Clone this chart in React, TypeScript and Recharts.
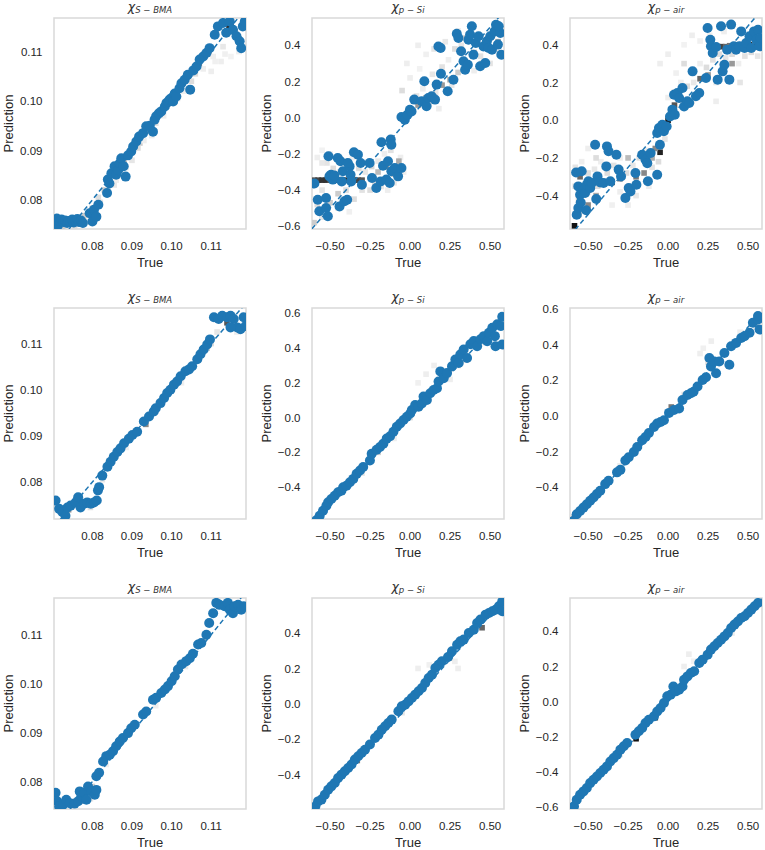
import React from 'react';
import { ScatterChart, Scatter, XAxis, YAxis, ReferenceArea } from 'recharts';

type Pair = [number, number];
type Bin = [number, number, string];

// axis ranges and ticks
const sbmaRange: Pair = [0.0703, 0.1188];
const pRange: Pair = [-0.613, 0.587];
const sbmaTicks = [0.08, 0.09, 0.1, 0.11];
const pTicksX = [-0.5, -0.25, 0, 0.25, 0.5];
const yTicks6 = [-0.6, -0.4, -0.2, 0, 0.2, 0.4];
const yTicks4 = [-0.4, -0.2, 0, 0.2, 0.4];
const yTicksUp = [-0.4, -0.2, 0, 0.2, 0.4, 0.6];

// row 1 ---------------------------------------------------------------
const sbma1: Pair[] = [
  [0.0706, 0.0758], [0.071, 0.0762], [0.0713, 0.0748], [0.0718, 0.0757], [0.0722, 0.076], [0.0727, 0.0755],
  [0.0731, 0.0758], [0.0736, 0.0753], [0.074, 0.0757], [0.0745, 0.0755], [0.0749, 0.076], [0.0753, 0.0754],
  [0.0758, 0.0757], [0.0762, 0.0761], [0.0766, 0.0755], [0.0771, 0.0758], [0.0776, 0.0753],
  [0.0793, 0.0773], [0.08, 0.0756], [0.0804, 0.078], [0.081, 0.0766], [0.0815, 0.079],
  [0.0837, 0.0814], [0.0839, 0.0841], [0.0843, 0.0833], [0.0848, 0.0854], [0.0856, 0.0868], [0.086, 0.0851],
  [0.0865, 0.086], [0.0869, 0.0874], [0.0873, 0.0884], [0.0879, 0.0868], [0.0884, 0.0847], [0.089, 0.089],
  [0.0898, 0.0898], [0.0903, 0.0908], [0.0911, 0.0918], [0.0918, 0.0928], [0.0928, 0.0935], [0.0936, 0.0949],
  [0.0945, 0.095], [0.0953, 0.0938], [0.0957, 0.0962], [0.0961, 0.0969], [0.0968, 0.0975], [0.0974, 0.0979],
  [0.0983, 0.0989], [0.0987, 0.0996], [0.0992, 0.0998], [0.0995, 0.1003], [0.1, 0.1006], [0.1004, 0.0999],
  [0.1008, 0.1015], [0.1012, 0.1009], [0.102, 0.1026], [0.1025, 0.1036], [0.1033, 0.1043], [0.1041, 0.1053],
  [0.1047, 0.1023], [0.1055, 0.1062], [0.1063, 0.107], [0.1071, 0.1084], [0.108, 0.109], [0.1088, 0.1097],
  [0.1096, 0.1107], [0.1109, 0.1134], [0.1117, 0.1151], [0.113, 0.1158], [0.1138, 0.1138], [0.1147, 0.1161],
  [0.1155, 0.1144], [0.1164, 0.1131], [0.1172, 0.1121], [0.1176, 0.1107], [0.118, 0.1151], [0.1185, 0.1161],
];
const sbma1Bins: Bin[] = [
  [0.0722, 0.0752, '#111'], [0.073, 0.0752, '#222'], [0.0738, 0.0756, '#555'], [0.0746, 0.0752, '#777'],
  [0.0714, 0.076, '#888'], [0.079, 0.077, '#bbb'], [0.0805, 0.0775, '#555'], [0.08, 0.0783, '#ccc'],
  [0.083, 0.082, '#ccc'], [0.088, 0.088, '#bbb'], [0.092, 0.0915, '#ccc'], [0.094, 0.094, '#aaa'],
  [0.1, 0.1, '#999'], [0.103, 0.104, '#777'], [0.105, 0.104, '#ddd'], [0.107, 0.1075, '#888'],
  [0.1095, 0.1095, '#aaa'], [0.1112, 0.1138, '#888'], [0.1145, 0.1152, '#333'], [0.115, 0.115, '#222'],
  [0.116, 0.114, '#888'], [0.117, 0.1125, '#999'], [0.1105, 0.109, '#eee'], [0.1125, 0.108, '#eee'],
  [0.1135, 0.1095, '#f0f0f0'], [0.11, 0.106, '#eee'], [0.095, 0.093, '#eee'], [0.086, 0.084, '#eee'],
  [0.082, 0.0795, '#e4e4e4'], [0.084, 0.0825, '#eee'], [0.0855, 0.083, '#e8e8e8'], [0.087, 0.086, '#ddd'],
  [0.0885, 0.0865, '#eee'], [0.09, 0.088, '#e6e6e6'], [0.0915, 0.0905, '#ddd'], [0.093, 0.092, '#eee'],
  [0.096, 0.0955, '#e2e2e2'], [0.098, 0.097, '#eee'], [0.1015, 0.1005, '#e6e6e6'], [0.103, 0.102, '#eee'],
  [0.106, 0.1055, '#ddd'], [0.108, 0.1065, '#eee'], [0.111, 0.108, '#f0f0f0'], [0.113, 0.111, '#e8e8e8'],
  [0.115, 0.109, '#f2f2f2'], [0.117, 0.11, '#eee'], [0.0725, 0.0745, '#ccc'], [0.0755, 0.0745, '#ddd'],
  [0.078, 0.0768, '#ccc'], [0.0815, 0.0805, '#ddd'], [0.0785, 0.0755, '#e6e6e6'],
];

const pSi1: Pair[] = [
  [-0.598, -0.364], [-0.577, -0.453], [-0.567, -0.517], [-0.525, -0.499], [-0.51, -0.213], [-0.525, -0.444],
  [-0.504, -0.324], [-0.494, -0.315], [-0.483, -0.342], [-0.514, -0.545], [-0.473, -0.32], [-0.452, -0.223],
  [-0.435, -0.241], [-0.427, -0.352], [-0.42, -0.296], [-0.441, -0.49], [-0.41, -0.462], [-0.393, -0.453],
  [-0.378, -0.269], [-0.372, -0.315], [-0.368, -0.352], [-0.389, -0.25], [-0.351, -0.191], [-0.326, -0.204],
  [-0.301, -0.37], [-0.309, -0.25], [-0.253, -0.25], [-0.238, -0.333], [-0.211, -0.388], [-0.184, -0.352],
  [-0.179, -0.136], [-0.169, -0.265], [-0.148, -0.342], [-0.138, -0.241], [-0.127, -0.361], [-0.121, -0.121],
  [-0.117, -0.149], [-0.117, -0.296], [-0.096, -0.278], [-0.075, -0.324], [-0.054, -0.278],
  [-0.054, 0.004], [-0.033, -0.011], [-0.016, 0.017], [-0.001, 0.044], [0.009, 0.035], [0.026, 0.1],
  [0.072, 0.091], [0.089, 0.201], [0.103, 0.063], [0.114, 0.109], [0.135, 0.118], [0.156, 0.1],
  [0.166, 0.183], [0.193, 0.243], [0.177, 0.394], [0.191, 0.385], [0.235, 0.146], [0.271, 0.21],
  [0.292, 0.464], [0.302, 0.44], [0.319, 0.367], [0.334, 0.312], [0.344, 0.265], [0.361, 0.293],
  [0.365, 0.431], [0.375, 0.459], [0.386, 0.505], [0.396, 0.348], [0.411, 0.413], [0.428, 0.45],
  [0.438, 0.284], [0.459, 0.394], [0.47, 0.302], [0.48, 0.422], [0.491, 0.385], [0.501, 0.45],
  [0.512, 0.376], [0.528, 0.477], [0.537, 0.514], [0.549, 0.404], [0.564, 0.468], [0.57, 0.348], [0.554, 0.505],
];
const pSi1Bins: Bin[] = [
  [-0.58, -0.22, '#eee'], [-0.55, -0.18, '#f2f2f2'], [-0.52, -0.25, '#e4e4e4'], [-0.48, -0.28, '#ddd'],
  [-0.44, -0.3, '#e8e8e8'], [-0.4, -0.25, '#e2e2e2'], [-0.36, -0.22, '#eee'], [-0.32, -0.28, '#ddd'],
  [-0.28, -0.3, '#e6e6e6'], [-0.24, -0.27, '#d6d6d6'], [-0.2, -0.24, '#e8e8e8'], [-0.16, -0.2, '#eee'],
  [-0.12, -0.18, '#e2e2e2'], [-0.08, -0.28, '#ddd'], [-0.04, -0.3, '#eee'], [-0.18, -0.38, '#e6e6e6'],
  [-0.14, -0.4, '#eee'], [-0.3, -0.4, '#e2e2e2'], [-0.4, -0.4, '#ddd'], [-0.55, -0.4, '#e4e4e4'],
  [-0.58, -0.48, '#ddd'], [-0.45, -0.5, '#eee'], [-0.38, -0.52, '#f0f0f0'], [-0.55, -0.55, '#e6e6e6'],
  [-0.6, -0.58, '#ccc'], [-0.22, -0.36, '#ddd'], [-0.1, -0.36, '#e8e8e8'], [-0.06, -0.22, '#eee'],
  [0.0, 0.05, '#ddd'], [0.04, 0.12, '#e4e4e4'], [0.08, 0.16, '#eee'], [0.12, 0.08, '#ddd'], [0.16, 0.14, '#e8e8e8'],
  [0.2, 0.28, '#e2e2e2'], [0.24, 0.32, '#eee'], [0.28, 0.38, '#ddd'], [0.32, 0.4, '#e6e6e6'], [0.36, 0.3, '#ddd'],
  [0.4, 0.26, '#eee'], [0.44, 0.34, '#e2e2e2'], [0.48, 0.42, '#ddd'], [0.52, 0.46, '#e8e8e8'], [0.56, 0.36, '#e2e2e2'],
  [0.3, 0.48, '#eee'], [0.22, 0.42, '#e8e8e8'], [0.1, 0.35, '#f0f0f0'], [0.0, 0.22, '#eee'], [0.06, 0.27, '#f2f2f2'],
  [0.14, 0.24, '#e6e6e6'], [0.38, 0.48, '#eee'], [0.5, 0.3, '#e4e4e4'], [0.26, 0.18, '#e6e6e6'], [0.18, 0.05, '#eee'],
  [-0.6, -0.345, '#555'], [-0.575, -0.345, '#444'], [-0.55, -0.345, '#333'], [-0.525, -0.345, '#333'],
  [-0.5, -0.345, '#555'], [-0.475, -0.345, '#444'], [-0.45, -0.345, '#333'], [-0.425, -0.345, '#444'],
  [-0.4, -0.345, '#333'], [-0.375, -0.345, '#222'], [-0.35, -0.345, '#333'], [-0.325, -0.345, '#444'],
  [-0.3, -0.345, '#555'], [-0.15, -0.27, '#888'], [-0.1, -0.31, '#999'], [-0.07, -0.24, '#aaa'],
  [-0.2, -0.3, '#bbb'], [0.05, 0.07, '#999'], [0.1, 0.11, '#aaa'], [0.2, 0.18, '#999'], [0.25, 0.21, '#aaa'],
  [0.4, 0.36, '#aaa'], [0.5, 0.38, '#999'], [0.55, 0.42, '#aaa'], [0.35, 0.44, '#bbb'], [0.45, 0.3, '#bbb'],
  [-0.45, -0.42, '#ccc'], [-0.5, -0.47, '#ccc'], [-0.35, -0.45, '#ddd'], [-0.05, 0.15, '#ddd'],
  [-0.02, 0.3, '#eee'], [0.05, 0.4, '#eee'], [0.15, 0.38, '#e5e5e5'], [-0.5, -0.2, '#eee'],
  [-0.55, -0.25, '#e8e8e8'], [-0.25, -0.4, '#ddd'], [0.3, 0.25, '#ccc'],
];

const pAir1: Pair[] = [
  [-0.571, -0.501], [-0.561, -0.466], [-0.575, -0.277], [-0.54, -0.271], [-0.561, -0.351], [-0.55, -0.395],
  [-0.546, -0.436], [-0.529, -0.369], [-0.519, -0.386], [-0.508, -0.342], [-0.498, -0.324], [-0.512, -0.478],
  [-0.487, -0.36], [-0.477, -0.333], [-0.456, -0.13], [-0.441, -0.298], [-0.449, -0.418], [-0.424, -0.33],
  [-0.403, -0.333], [-0.382, -0.139], [-0.372, -0.165], [-0.386, -0.245], [-0.361, -0.324], [-0.323, -0.183],
  [-0.309, -0.262], [-0.294, -0.298], [-0.267, -0.413], [-0.246, -0.36], [-0.235, -0.378], [-0.204, -0.28],
  [-0.198, -0.342], [-0.162, -0.183], [-0.141, -0.21], [-0.13, -0.228], [-0.126, -0.324], [-0.109, -0.174],
  [-0.068, -0.289], [-0.051, -0.13], [-0.068, -0.068], [-0.057, -0.041], [-0.036, -0.024], [-0.026, -0.059],
  [-0.009, -0.033], [0.012, 0.02], [0.027, 0.056], [0.037, 0.135], [0.042, 0.029], [0.058, 0.144],
  [0.069, 0.118], [0.09, 0.171], [0.1, 0.073], [0.121, 0.1], [0.132, 0.091], [0.153, 0.259], [0.174, 0.127],
  [0.195, 0.144], [0.237, 0.224], [0.247, 0.489], [0.264, 0.427], [0.268, 0.392], [0.279, 0.356], [0.3, 0.388],
  [0.31, 0.215], [0.331, 0.498], [0.341, 0.259], [0.352, 0.294], [0.369, 0.374], [0.383, 0.215], [0.394, 0.507],
  [0.411, 0.392], [0.425, 0.374], [0.446, 0.392], [0.457, 0.471], [0.478, 0.383], [0.488, 0.409], [0.509, 0.445],
  [0.52, 0.383], [0.537, 0.471], [0.551, 0.427], [0.562, 0.48], [0.572, 0.392], [0.579, 0.436],
];
const pAir1Bins: Bin[] = [
  [-0.58, -0.25, '#e4e4e4'], [-0.54, -0.22, '#eee'], [-0.5, -0.28, '#ddd'], [-0.46, -0.26, '#e8e8e8'],
  [-0.42, -0.22, '#eee'], [-0.38, -0.28, '#ddd'], [-0.34, -0.24, '#e2e2e2'], [-0.3, -0.2, '#eee'],
  [-0.26, -0.28, '#ddd'], [-0.22, -0.24, '#e6e6e6'], [-0.18, -0.2, '#ddd'], [-0.14, -0.16, '#eee'],
  [-0.1, -0.25, '#e2e2e2'], [-0.06, -0.22, '#ddd'], [-0.02, -0.1, '#e6e6e6'], [-0.56, -0.42, '#ddd'],
  [-0.5, -0.38, '#e2e2e2'], [-0.44, -0.35, '#ddd'], [-0.3, -0.38, '#eee'], [-0.2, -0.4, '#e8e8e8'],
  [-0.12, -0.35, '#eee'], [-0.35, -0.45, '#f0f0f0'], [-0.58, -0.35, '#ddd'],
  [0.04, 0.15, '#e6e6e6'], [0.08, 0.2, '#eee'], [0.12, 0.18, '#ddd'], [0.16, 0.2, '#e8e8e8'], [0.2, 0.3, '#eee'],
  [0.24, 0.28, '#ddd'], [0.28, 0.32, '#e2e2e2'], [0.32, 0.35, '#ddd'], [0.36, 0.33, '#e6e6e6'], [0.4, 0.35, '#ddd'],
  [0.44, 0.3, '#eee'], [0.48, 0.34, '#e2e2e2'], [0.52, 0.36, '#ddd'], [0.56, 0.34, '#e6e6e6'], [0.26, 0.45, '#eee'],
  [0.2, 0.42, '#f0f0f0'], [0.1, 0.4, '#f2f2f2'], [0.3, 0.2, '#e8e8e8'], [0.5, 0.45, '#e2e2e2'], [0.15, 0.1, '#e6e6e6'],
  [0.0, 0.12, '#eee'], [0.05, 0.25, '#f0f0f0'], [0.35, 0.47, '#eee'],
  [0.31, 0.39, '#555'], [0.335, 0.39, '#444'], [0.36, 0.39, '#666'], [0.385, 0.395, '#777'], [0.41, 0.395, '#555'],
  [0.435, 0.4, '#444'], [0.46, 0.4, '#333'], [0.485, 0.4, '#111'], [0.51, 0.4, '#333'], [0.535, 0.39, '#555'],
  [0.56, 0.39, '#666'], [0.58, 0.4, '#888'], [0.0, 0.0, '#111'], [0.02, 0.02, '#333'], [0.04, 0.08, '#555'],
  [0.08, 0.11, '#666'], [-0.05, -0.17, '#222'], [-0.08, -0.15, '#888'], [0.2, 0.22, '#666'], [0.25, 0.24, '#999'],
  [0.35, 0.27, '#888'], [0.4, 0.3, '#999'], [-0.2, -0.3, '#777'], [-0.15, -0.28, '#888'], [-0.3, -0.31, '#666'],
  [-0.35, -0.33, '#444'], [-0.4, -0.33, '#666'], [-0.55, -0.3, '#666'], [-0.585, -0.56, '#111'], [-0.56, -0.5, '#555'],
  [-0.5, -0.45, '#888'], [-0.45, -0.4, '#aaa'], [-0.25, -0.2, '#bbb'], [-0.1, -0.2, '#aaa'], [0.1, 0.3, '#ddd'],
  [0.0, 0.35, '#eee'], [-0.05, 0.3, '#eee'], [0.15, 0.45, '#eee'], [-0.5, -0.15, '#eee'], [-0.45, -0.2, '#ddd'],
  [-0.25, -0.45, '#eee'], [0.3, 0.1, '#eee'], [0.45, 0.2, '#e5e5e5'],
];

// row 2 ---------------------------------------------------------------
const sbma2: Pair[] = [
  [0.0707, 0.076], [0.0716, 0.0742], [0.0724, 0.0735], [0.0732, 0.0727], [0.0737, 0.0745], [0.0745, 0.0749],
  [0.0758, 0.0756], [0.0764, 0.0767], [0.077, 0.0745], [0.0779, 0.0753], [0.0787, 0.0756], [0.0796, 0.0753],
  [0.0804, 0.0756], [0.0811, 0.076], [0.0814, 0.0782], [0.0817, 0.0789], [0.0825, 0.0814],
  [0.0838, 0.0833], [0.0846, 0.0844], [0.0854, 0.0855], [0.0863, 0.0865], [0.0871, 0.0873], [0.088, 0.0884],
  [0.0892, 0.0894], [0.0901, 0.0902], [0.0913, 0.0909], [0.093, 0.0931], [0.0943, 0.0942], [0.0955, 0.0953],
  [0.096, 0.096], [0.0972, 0.0971], [0.0981, 0.0982], [0.0989, 0.0993], [0.0997, 0.1], [0.1006, 0.1011],
  [0.1014, 0.1018], [0.1023, 0.1029], [0.1035, 0.104], [0.1044, 0.1044], [0.1052, 0.1051], [0.1065, 0.1066],
  [0.1073, 0.1077], [0.1081, 0.1087], [0.109, 0.1098], [0.1097, 0.1109],
  [0.1107, 0.1157], [0.1119, 0.1153], [0.1128, 0.116], [0.114, 0.1157], [0.1149, 0.116], [0.1157, 0.1153],
  [0.1166, 0.1135], [0.1174, 0.1131], [0.1182, 0.1157], [0.1187, 0.1138], [0.1149, 0.1135],
];
const sbma2Bins: Bin[] = [
  [0.1147, 0.1138, '#111'], [0.114, 0.1145, '#555'], [0.074, 0.074, '#999'], [0.077, 0.0745, '#ccc'],
  [0.0935, 0.0925, '#888'], [0.0955, 0.095, '#bbb'], [0.1, 0.1, '#ccc'], [0.109, 0.109, '#ccc'], [0.11, 0.11, '#ddd'],
  [0.0795, 0.0745, '#e2e2e2'], [0.0825, 0.0805, '#e8e8e8'], [0.0885, 0.0875, '#eee'], [0.1025, 0.1015, '#eee'],
  [0.1115, 0.1125, '#e6e6e6'], [0.1165, 0.1125, '#eee'],
];

const pSi2: Pair[] = [
  [-0.586, -0.591], [-0.565, -0.566], [-0.544, -0.537], [-0.523, -0.508], [-0.512, -0.488], [-0.492, -0.469],
  [-0.471, -0.45], [-0.45, -0.43], [-0.429, -0.421], [-0.418, -0.401], [-0.397, -0.392], [-0.376, -0.372],
  [-0.355, -0.353], [-0.334, -0.324], [-0.313, -0.305], [-0.293, -0.285], [-0.251, -0.247], [-0.24, -0.208],
  [-0.209, -0.185], [-0.188, -0.169], [-0.167, -0.15], [-0.146, -0.121], [-0.125, -0.107], [-0.104, -0.082],
  [-0.083, -0.053], [-0.062, -0.034], [-0.041, -0.014], [-0.02, 0.005], [0.001, 0.024], [0.011, 0.043],
  [0.032, 0.072], [0.053, 0.063], [0.074, 0.082], [0.084, 0.121], [0.105, 0.101], [0.126, 0.14], [0.147, 0.159],
  [0.168, 0.169], [0.178, 0.208], [0.189, 0.266], [0.21, 0.227], [0.231, 0.256], [0.262, 0.295], [0.283, 0.334],
  [0.304, 0.314], [0.314, 0.363], [0.335, 0.392], [0.356, 0.343], [0.377, 0.422], [0.398, 0.441], [0.419, 0.411],
  [0.44, 0.451], [0.461, 0.469], [0.482, 0.44], [0.493, 0.488], [0.514, 0.517], [0.53, 0.469], [0.534, 0.411],
  [0.545, 0.537], [0.566, 0.527], [0.576, 0.421], [0.576, 0.58],
];
const pSi2Bins: Bin[] = [
  [-0.2, -0.2, '#ccc'], [0.0, 0.0, '#ddd'], [0.2, 0.22, '#ccc'], [0.25, 0.28, '#e0e0e0'], [0.3, 0.3, '#ddd'],
  [0.1, 0.25, '#eee'], [0.25, 0.22, '#eee'], [0.35, 0.33, '#e6e6e6'], [0.45, 0.43, '#eee'], [0.05, 0.2, '#f0f0f0'],
  [0.15, 0.3, '#eee'], [-0.3, -0.32, '#e8e8e8'], [-0.1, -0.12, '#eee'], [0.5, 0.48, '#e6e6e6'],
];

const pAir2: Pair[] = [
  [-0.592, -0.59], [-0.571, -0.552], [-0.55, -0.534], [-0.529, -0.515], [-0.508, -0.496], [-0.487, -0.477],
  [-0.466, -0.458], [-0.445, -0.439], [-0.424, -0.42], [-0.393, -0.383], [-0.372, -0.364], [-0.319, -0.317],
  [-0.298, -0.303], [-0.267, -0.25], [-0.246, -0.232], [-0.214, -0.203], [-0.193, -0.175], [-0.162, -0.137],
  [-0.141, -0.118], [-0.12, -0.096], [-0.088, -0.062], [-0.068, -0.043], [-0.047, -0.034], [-0.026, -0.024],
  [0.006, 0.017], [0.037, 0.033], [0.069, 0.042], [0.09, 0.089], [0.121, 0.117], [0.142, 0.127], [0.159, 0.136],
  [0.184, 0.165], [0.216, 0.202], [0.237, 0.217], [0.258, 0.325], [0.268, 0.278], [0.289, 0.306], [0.3, 0.24],
  [0.32, 0.306], [0.352, 0.353], [0.383, 0.287], [0.394, 0.391], [0.425, 0.41], [0.457, 0.438], [0.478, 0.448],
  [0.509, 0.467], [0.53, 0.523], [0.562, 0.542], [0.572, 0.485], [0.562, 0.561],
];
const pAir2Bins: Bin[] = [
  [-0.585, -0.57, '#555'], [-0.18, -0.17, '#888'], [0.02, 0.05, '#777'], [0.25, 0.3, '#ddd'], [0.2, 0.35, '#eee'],
  [0.4, 0.4, '#ddd'], [0.22, 0.38, '#f0f0f0'], [0.27, 0.42, '#eee'], [0.1, 0.12, '#e6e6e6'], [0.45, 0.47, '#eee'],
  [-0.3, -0.28, '#eee'], [0.55, 0.5, '#e6e6e6'],
];

// row 3 ---------------------------------------------------------------
const sbma3: Pair[] = [
  [0.0707, 0.0777], [0.0711, 0.076], [0.0716, 0.0749], [0.0726, 0.0753], [0.0734, 0.0763], [0.0743, 0.0756],
  [0.0755, 0.0755], [0.0764, 0.076], [0.0768, 0.078], [0.0772, 0.077], [0.078, 0.0777], [0.0785, 0.0763],
  [0.0789, 0.079], [0.0797, 0.078], [0.0806, 0.0773], [0.081, 0.0783], [0.081, 0.0811], [0.0817, 0.0818],
  [0.0827, 0.0841], [0.0835, 0.0852], [0.0844, 0.0855], [0.0852, 0.0862], [0.086, 0.0872], [0.0869, 0.0882],
  [0.0877, 0.0889], [0.089, 0.0899], [0.0898, 0.0909], [0.0907, 0.0916], [0.0928, 0.0937], [0.0936, 0.0943],
  [0.0953, 0.0967], [0.0961, 0.0971], [0.0974, 0.0981], [0.0983, 0.0988], [0.0991, 0.0995], [0.1, 0.1005],
  [0.1008, 0.1015], [0.1016, 0.1029], [0.1025, 0.1039], [0.1037, 0.1046], [0.1046, 0.1052], [0.1054, 0.1061],
  [0.1067, 0.108], [0.1075, 0.1083], [0.1088, 0.11], [0.1095, 0.1124],
  [0.1105, 0.1144], [0.1113, 0.1165], [0.1121, 0.1161], [0.1134, 0.1158], [0.1142, 0.1165], [0.1147, 0.1151],
  [0.1155, 0.1144], [0.1159, 0.1158], [0.1168, 0.1161], [0.1176, 0.1151], [0.1183, 0.1158],
];
const sbma3Bins: Bin[] = [
  [0.114, 0.1155, '#333'], [0.074, 0.0755, '#999'], [0.077, 0.076, '#bbb'], [0.08, 0.079, '#ccc'], [0.108, 0.1085, '#bbb'],
  [0.0795, 0.0765, '#e4e4e4'], [0.0835, 0.0835, '#eee'], [0.096, 0.0955, '#eee'], [0.1035, 0.1035, '#e8e8e8'],
];

const pSi3: Pair[] = [
  [-0.592, -0.579], [-0.575, -0.551], [-0.554, -0.541], [-0.533, -0.513], [-0.512, -0.485], [-0.492, -0.466],
  [-0.471, -0.447], [-0.45, -0.419], [-0.429, -0.4], [-0.408, -0.381], [-0.387, -0.362], [-0.366, -0.343],
  [-0.345, -0.315], [-0.324, -0.296], [-0.303, -0.278], [-0.282, -0.259], [-0.251, -0.23], [-0.219, -0.193],
  [-0.198, -0.174], [-0.177, -0.146], [-0.156, -0.127], [-0.136, -0.108], [-0.115, -0.089], [-0.073, -0.042],
  [-0.052, -0.014], [-0.031, -0.005], [-0.01, 0.014], [0.011, 0.033], [0.032, 0.052], [0.053, 0.071],
  [0.074, 0.09], [0.095, 0.118], [0.116, 0.146], [0.137, 0.165], [0.158, 0.203], [0.178, 0.221], [0.199, 0.24],
  [0.237, 0.265], [0.262, 0.297], [0.294, 0.334], [0.314, 0.353], [0.335, 0.363], [0.367, 0.4], [0.398, 0.419],
  [0.419, 0.457], [0.44, 0.476], [0.472, 0.504], [0.493, 0.513], [0.514, 0.523], [0.534, 0.532], [0.555, 0.551],
  [0.576, 0.579], [0.576, 0.523],
];
const pSi3Bins: Bin[] = [
  [-0.6, -0.59, '#111'], [0.45, 0.43, '#666'], [0.08, 0.09, '#555'], [0.25, 0.26, '#999'], [-0.33, -0.32, '#777'],
  [0.05, 0.2, '#eee'], [0.3, 0.2, '#eee'], [0.12, 0.22, '#f0f0f0'], [0.28, 0.24, '#eee'], [-0.05, -0.05, '#e6e6e6'],
];

const pAir3: Pair[] = [
  [-0.588, -0.594], [-0.571, -0.556], [-0.55, -0.528], [-0.529, -0.509], [-0.508, -0.49], [-0.487, -0.462],
  [-0.466, -0.443], [-0.445, -0.424], [-0.424, -0.405], [-0.403, -0.386], [-0.382, -0.367], [-0.361, -0.339],
  [-0.34, -0.32], [-0.319, -0.301], [-0.298, -0.272], [-0.277, -0.253], [-0.256, -0.234], [-0.204, -0.187],
  [-0.183, -0.168], [-0.162, -0.149], [-0.141, -0.121], [-0.12, -0.102], [-0.088, -0.083], [-0.068, -0.055],
  [-0.047, -0.036], [-0.026, -0.007], [-0.005, 0.031], [0.016, 0.04], [0.033, 0.087], [0.048, 0.059],
  [0.069, 0.068], [0.09, 0.087], [0.1, 0.125], [0.121, 0.144], [0.142, 0.163], [0.163, 0.173], [0.195, 0.22],
  [0.216, 0.239], [0.247, 0.267], [0.268, 0.296], [0.289, 0.315], [0.31, 0.333], [0.331, 0.352], [0.352, 0.371],
  [0.373, 0.39], [0.394, 0.419], [0.415, 0.438], [0.436, 0.456], [0.457, 0.475], [0.478, 0.485], [0.499, 0.504],
  [0.52, 0.523], [0.541, 0.542], [0.562, 0.561],
];
const pAir3Bins: Bin[] = [
  [-0.6, -0.6, '#333'], [-0.2, -0.21, '#111'], [-0.08, -0.09, '#111'], [0.15, 0.16, '#777'], [0.1, 0.2, '#eee'],
  [0.13, 0.27, '#eee'], [0.16, 0.23, '#f2f2f2'], [-0.3, -0.3, '#e8e8e8'], [0.4, 0.39, '#eee'],
];

const BLUE = '#1f77b4';
const INK = '#262626';
const FONT = '"Liberation Sans", Arial, sans-serif';

const fmt = (digits: number) => (v: number) => v.toFixed(digits).replace('-', '\u2212');

const Dot = (props: any) => <circle cx={props.cx} cy={props.cy} r={5} fill={BLUE} />;
const BinCell = (props: any) => (
  <rect x={props.cx - 2.8} y={props.cy - 2.8} width={5.6} height={5.6} fill={props.payload.c} />
);
const NoDot = () => <g />;

interface PanelCfg {
  sub: string;
  points: Pair[];
  bins: Bin[];
  xDomain: Pair;
  yDomain: Pair;
  xTicks: number[];
  yTicks: number[];
  xDigits: number;
  yDigits: number;
}

const sbma = { sub: 'S \u2212 BMA', xDomain: sbmaRange, xTicks: sbmaTicks, yTicks: sbmaTicks, xDigits: 2, yDigits: 2 };
const psi = { sub: 'p \u2212 Si', xDomain: pRange, xTicks: pTicksX, xDigits: 2, yDigits: 1 };
const pair = { sub: 'p \u2212 air', xDomain: pRange, xTicks: pTicksX, xDigits: 2, yDigits: 1 };

const panels: PanelCfg[] = [
  { ...sbma, points: sbma1, bins: sbma1Bins, yDomain: [0.0741, 0.1168] },
  { ...psi, points: pSi1, bins: pSi1Bins, yDomain: [-0.615, 0.551], yTicks: yTicks6 },
  { ...pair, points: pAir1, bins: pAir1Bins, yDomain: [-0.577, 0.542], yTicks: yTicks4 },
  { ...sbma, points: sbma2, bins: sbma2Bins, yDomain: [0.072, 0.1177] },
  { ...psi, points: pSi2, bins: pSi2Bins, yDomain: [-0.584, 0.631], yTicks: yTicksUp },
  { ...pair, points: pAir2, bins: pAir2Bins, yDomain: [-0.579, 0.606], yTicks: yTicksUp },
  { ...sbma, points: sbma3, bins: sbma3Bins, yDomain: [0.0744, 0.1175] },
  { ...psi, points: pSi3, bins: pSi3Bins, yDomain: [-0.594, 0.598], yTicks: yTicks4 },
  { ...pair, points: pAir3, bins: pAir3Bins, yDomain: [-0.609, 0.589], yTicks: yTicks6 },
];

function Panel({ cfg, left, top }: { cfg: PanelCfg; left: number; top: number }) {
  const pts = cfg.points.map(([x, y]) => ({ x, y }));
  const bins = cfg.bins.map(([x, y, c]) => ({ x, y, c }));
  const lo = Math.min(cfg.xDomain[0], cfg.yDomain[0]);
  const hi = Math.max(cfg.xDomain[1], cfg.yDomain[1]);
  const diag = [{ x: lo, y: lo }, { x: hi, y: hi }];
  const tick = { fill: INK, fontSize: 11.5, fontFamily: FONT };

  return (
    <div style={{ position: 'absolute', left, top, width: 255, height: 270 }}>
      <div
        style={{
          position: 'absolute', left: 54, top: -1, width: 192, textAlign: 'center',
          fontFamily: '"DejaVu Sans", sans-serif', fontStyle: 'italic', fontSize: 12.5, lineHeight: '15px', color: '#333',
        }}
      >
        χ<span style={{ fontSize: 8.5, position: 'relative', top: 2 }}>{cfg.sub}</span>
      </div>
      <ScatterChart width={255} height={270} margin={{ top: 18, right: 9, bottom: 0, left: 0 }}>
        <XAxis
          type="number"
          dataKey="x"
          domain={cfg.xDomain}
          ticks={cfg.xTicks}
          interval={0}
          allowDataOverflow
          axisLine={false}
          tickLine={false}
          tickMargin={7}
          height={41}
          tick={tick}
          tickFormatter={fmt(cfg.xDigits)}
          label={{ value: 'True', position: 'insideBottom', offset: 3, fill: INK, fontSize: 13, fontFamily: FONT }}
        />
        <YAxis
          type="number"
          dataKey="y"
          domain={cfg.yDomain}
          ticks={cfg.yTicks}
          interval={0}
          allowDataOverflow
          axisLine={false}
          tickLine={false}
          tickMargin={5.5}
          width={54}
          tick={tick}
          tickFormatter={fmt(cfg.yDigits)}
          label={{
            value: 'Prediction', angle: -90, position: 'insideLeft', offset: 8,
            fill: INK, fontSize: 13, fontFamily: FONT, style: { textAnchor: 'middle' },
          }}
        />
        <Scatter data={bins} shape={BinCell} isAnimationActive={false} />
        <Scatter
          data={diag}
          shape={NoDot}
          line={{ stroke: BLUE, strokeWidth: 1.5, strokeDasharray: '5 3' }}
          isAnimationActive={false}
        />
        <Scatter data={pts} shape={Dot} isAnimationActive={false} />
        <ReferenceArea
          x1={cfg.xDomain[0]}
          x2={cfg.xDomain[1]}
          y1={cfg.yDomain[0]}
          y2={cfg.yDomain[1]}
          fill="none"
          stroke="#d9d9d9"
          strokeWidth={1.5}
          ifOverflow="visible"
        />
      </ScatterChart>
    </div>
  );
}

export default function App() {
  return (
    <div
      style={{
        position: 'absolute', left: 0, top: 0, width: 765, height: 850, overflow: 'hidden',
        background: '#fff', fontFamily: FONT,
      }}
    >
      {panels.map((cfg, i) => (
        <Panel key={i} cfg={cfg} left={(i % 3) * 258} top={Math.floor(i / 3) * 290} />
      ))}
    </div>
  );
}
